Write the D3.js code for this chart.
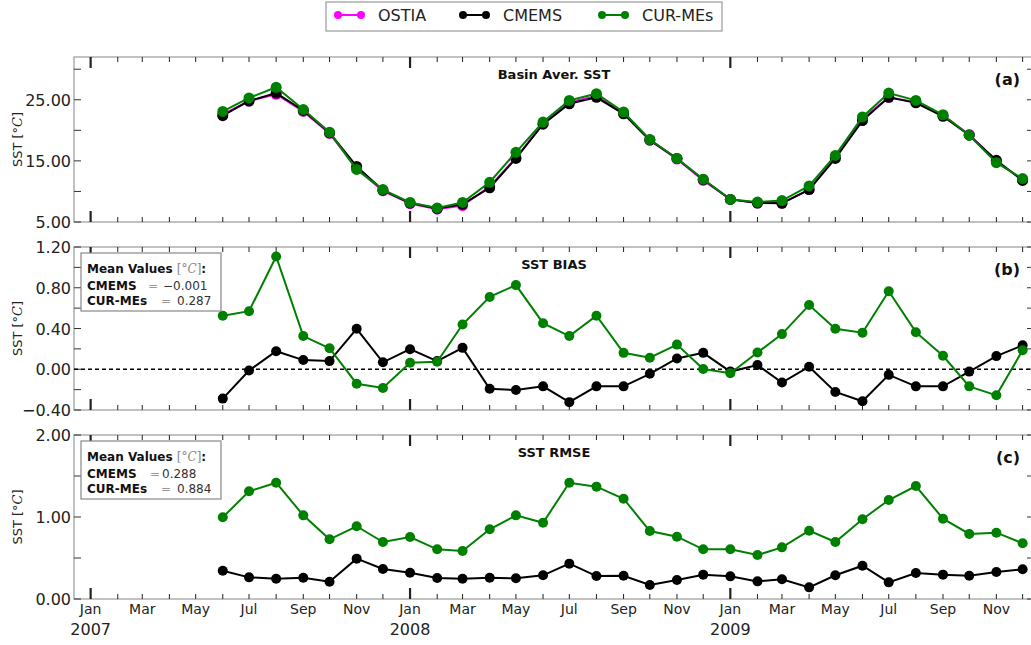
<!DOCTYPE html>
<html>
<head>
<meta charset="utf-8">
<script src="https://d3js.org/d3.v7.min.js"></script>
<style>
  body { margin: 0; background: #fff; }
  text { font-family: "DejaVu Sans", sans-serif; }
</style>
</head>
<body>
<div id="chart"></div>
<script>
// Monthly dates of the series
var months = ["2007-06", "2007-07", "2007-08", "2007-09", "2007-10", "2007-11", "2007-12",
  "2008-01", "2008-02", "2008-03", "2008-04", "2008-05", "2008-06", "2008-07", "2008-08",
  "2008-09", "2008-10", "2008-11", "2008-12", "2009-01", "2009-02", "2009-03", "2009-04",
  "2009-05", "2009-06", "2009-07", "2009-08", "2009-09", "2009-10", "2009-11", "2009-12"];

// Basin averaged SST
var sstOstia = [22.6, 24.8, 25.9, 23.1, 19.5, 13.7, 10.1, 8.0, 7.1, 7.7, 10.8, 15.5, 21.1, 24.6, 25.6,
  22.8, 18.4, 15.3, 11.8, 8.7, 8.1, 8.1, 10.3, 15.6, 21.9, 25.4, 24.6, 22.4, 19.3, 14.9, 11.9];
var sstCmems = [22.4, 24.8, 26.1, 23.25, 19.6, 14.1, 10.2, 8.1, 7.2, 7.9, 10.6, 15.4, 21.0, 24.35, 25.4,
  22.7, 18.4, 15.4, 11.95, 8.7, 8.1, 8.05, 10.3, 15.4, 21.6, 25.4, 24.5, 22.3, 19.2, 15.1, 11.8];
var sstCur = [23.1, 25.3, 27.05, 23.4, 19.7, 13.6, 10.3, 8.2, 7.3, 8.2, 11.5, 16.4, 21.35, 24.9, 26.0,
  23.0, 18.5, 15.4, 12.0, 8.7, 8.26, 8.5, 10.9, 15.9, 22.2, 26.1, 24.9, 22.55, 19.2, 14.7, 12.1];

// SST bias
var biasCmems = [-0.288, -0.013, 0.177, 0.09, 0.08, 0.397, 0.068, 0.197, 0.08, 0.21, -0.191, -0.204,
  -0.168, -0.323, -0.168, -0.168, -0.045, 0.106, 0.161, -0.023, 0.042, -0.13, 0.025, -0.223, -0.314,
  -0.055, -0.168, -0.168, -0.023, 0.129, 0.235];
var biasCur = [0.526, 0.57, 1.107, 0.326, 0.206, -0.142, -0.184, 0.064, 0.074, 0.439, 0.71, 0.826,
  0.452, 0.326, 0.526, 0.161, 0.113, 0.242, 0.003, -0.039, 0.164, 0.345, 0.63, 0.397, 0.358,
  0.765, 0.364, 0.132, -0.168, -0.256, 0.187];

// SST rmse
var rmseCmems = [0.345, 0.264, 0.248, 0.26, 0.211, 0.492, 0.366, 0.321, 0.256, 0.248, 0.26, 0.252,
  0.289, 0.431, 0.28, 0.284, 0.171, 0.232, 0.297, 0.276, 0.215, 0.24, 0.142, 0.289, 0.406,
  0.203, 0.317, 0.297, 0.284, 0.33, 0.363];
var rmseCur = [0.996, 1.313, 1.418, 1.02, 0.728, 0.887, 0.695, 0.756, 0.606, 0.585, 0.85, 1.02,
  0.93, 1.418, 1.37, 1.223, 0.829, 0.76, 0.606, 0.606, 0.536, 0.63, 0.833, 0.695, 0.972,
  1.207, 1.378, 0.979, 0.793, 0.809, 0.679];

// Legend and tick labels
var seriesNames = ["OSTIA", "CMEMS", "CUR-MEs"];
var seriesColors = ["#ff00ff", "#000000", "#008000"];
var yearLabels = ["2007", "2008", "2009"];
var monthLabels = ["Jan", "Feb", "Mar", "Apr", "May", "Jun", "Jul", "Aug", "Sep", "Oct", "Nov", "Dec"];

var svgWidth = 1031;
var svgHeight = 645;

var parseMonth = d3.timeParse("%Y-%m");
var dates = months.map(parseMonth);

var svg = d3.select("#chart")
  .append("svg")
  .attr("width", svgWidth)
  .attr("height", svgHeight);

// Shared time scale (right spine falls just outside the picture)
var x = d3.scaleTime()
  .domain([new Date(2006, 11, 13), new Date(2009, 11, 14)])
  .range([74, 1034]);

var allMonths = d3.timeMonth.range(new Date(2007, 0, 1), new Date(2010, 0, 1));

var panels = [
  { top: 57, bottom: 222, domain: [5, 32], major: [5, 15, 25], minor: [10, 20, 30],
    title: "Basin Aver. SST", tag: "(a)",
    series: [sstOstia, sstCmems, sstCur], r: 5.5 },
  { top: 247, bottom: 410, domain: [-0.4, 1.2], major: [-0.4, 0, 0.4, 0.8, 1.2], minor: [-0.2, 0.2, 0.6, 1.0],
    title: "SST BIAS", tag: "(b)",
    series: [null, biasCmems, biasCur], r: 5,
    means: ["\u22120.001", "0.287"], eqX: [148, 161], valX: [163, 177] },
  { top: 435, bottom: 599, domain: [0, 2], major: [0, 1, 2], minor: [0.5, 1.5],
    title: "SST RMSE", tag: "(c)",
    series: [null, rmseCmems, rmseCur], r: 5,
    means: ["0.288", "0.884"], eqX: [150, 161], valX: [162, 177] }
];

panels.forEach(function(p, pi) {
  var y = d3.scaleLinear().domain(p.domain).range([p.bottom, p.top]);
  var g = svg.append("g");
  var x0 = x.range()[0], x1 = x.range()[1];

  // Frame
  g.append("rect")
    .attr("x", x0).attr("y", p.top)
    .attr("width", x1 - x0).attr("height", p.bottom - p.top)
    .attr("fill", "none")
    .attr("stroke", "#999")
    .attr("stroke-width", 1.2);

  // Month ticks on top and bottom, inward
  allMonths.forEach(function(d) {
    var isJan = d.getMonth() === 0;
    var len = isJan ? 11 : 5;
    [[p.bottom, -1], [p.top, 1]].forEach(function(s) {
      g.append("line")
        .attr("x1", x(d)).attr("x2", x(d))
        .attr("y1", s[0]).attr("y2", s[0] + s[1] * len)
        .attr("stroke", "#222")
        .attr("stroke-width", isJan ? 2.2 : 1);
    });
  });

  // Y ticks, inward on both sides
  p.major.concat(p.minor).forEach(function(v) {
    [[x0, 1], [x1, -1]].forEach(function(s) {
      g.append("line")
        .attr("x1", s[0]).attr("x2", s[0] + s[1] * 7)
        .attr("y1", y(v)).attr("y2", y(v))
        .attr("stroke", "#333")
        .attr("stroke-width", 1);
    });
  });

  // Y tick labels
  g.selectAll(".ylab")
    .data(p.major)
    .enter()
    .append("text")
    .attr("x", 71)
    .attr("y", d => y(d) + 6)
    .attr("text-anchor", "end")
    .attr("font-size", 16)
    .attr("fill", "#222")
    .text(d => d3.format(".2f")(d));

  // Y axis label
  var yl = g.append("text")
    .attr("transform", `translate(22, ${(p.top + p.bottom) / 2}) rotate(-90)`)
    .attr("text-anchor", "middle")
    .attr("font-size", 13)
    .attr("fill", "#222");
  yl.append("tspan").text("SST [\u00b0");
  yl.append("tspan").attr("font-family", "DejaVu Serif").attr("font-style", "italic").text("C");
  yl.append("tspan").text("]");

  // Zero line for bias panel
  if (pi === 1) {
    g.append("line")
      .attr("x1", x0).attr("x2", x1)
      .attr("y1", y(0)).attr("y2", y(0))
      .attr("stroke", "#000")
      .attr("stroke-width", 1.4)
      .attr("stroke-dasharray", "4,3");
  }

  // Series lines and markers
  var line = d3.line()
    .x((d, i) => x(dates[i]))
    .y(d => y(d));

  p.series.forEach(function(vals, si) {
    if (!vals) return;
    g.append("path")
      .datum(vals)
      .attr("d", line)
      .attr("fill", "none")
      .attr("stroke", seriesColors[si])
      .attr("stroke-width", 2);
    g.selectAll(".pt" + si)
      .data(vals)
      .enter()
      .append("circle")
      .attr("cx", (d, i) => x(dates[i]))
      .attr("cy", d => y(d))
      .attr("r", p.r)
      .attr("fill", seriesColors[si]);
  });

  // Panel title and tag
  g.append("text")
    .attr("x", 554)
    .attr("y", p.top + 22)
    .attr("text-anchor", "middle")
    .attr("font-size", 13)
    .attr("font-weight", "bold")
    .attr("fill", "#111")
    .text(p.title);

  g.append("text")
    .attr("x", 1020)
    .attr("y", p.top + 28)
    .attr("text-anchor", "end")
    .attr("font-size", 16)
    .attr("font-weight", "bold")
    .attr("fill", "#111")
    .text(p.tag);

  // Mean values box
  if (p.means) {
    var bx = 81, by = p.top + 6;
    g.append("rect")
      .attr("x", bx).attr("y", by)
      .attr("width", 140).attr("height", 58)
      .attr("fill", "#fff")
      .attr("stroke", "#888")
      .attr("stroke-width", 1.2);

    var t0 = g.append("text")
      .attr("x", bx + 6).attr("y", by + 20)
      .attr("font-size", 12).attr("font-weight", "bold").attr("fill", "#111");
    t0.append("tspan").text("Mean Values ");
    t0.append("tspan").attr("font-family", "DejaVu Serif").attr("font-weight", "normal")
      .attr("fill", "#888").text("[\u00b0");
    t0.append("tspan").attr("font-family", "DejaVu Serif").attr("font-weight", "normal")
      .attr("font-style", "italic").attr("fill", "#888").text("C");
    t0.append("tspan").attr("font-family", "DejaVu Serif").attr("font-weight", "normal")
      .attr("fill", "#888").text("]");
    t0.append("tspan").text(":");

    ["CMEMS", "CUR-MEs"].forEach(function(name, k) {
      var ty = by + 37 + k * 15;
      g.append("text")
        .attr("x", bx + 6).attr("y", ty)
        .attr("font-size", 12).attr("font-weight", "bold").attr("fill", "#111")
        .text(name);
      g.append("text")
        .attr("x", p.eqX[k]).attr("y", ty)
        .attr("font-family", "DejaVu Serif").attr("font-size", 12).attr("fill", "#999")
        .text("=");
      g.append("text")
        .attr("x", p.valX[k]).attr("y", ty)
        .attr("font-family", "DejaVu Serif").attr("font-size", 12).attr("fill", "#333")
        .text(p.means[k]);
    });
  }

  // X tick labels under the last panel
  if (pi === panels.length - 1) {
    g.selectAll(".xlab")
      .data(allMonths.filter(d => d.getMonth() % 2 === 0))
      .enter()
      .append("text")
      .attr("x", d => x(d))
      .attr("y", p.bottom + 15)
      .attr("text-anchor", "middle")
      .attr("font-size", 14)
      .attr("fill", "#222")
      .text(d => monthLabels[d.getMonth()]);

    g.selectAll(".yearlab")
      .data(yearLabels)
      .enter()
      .append("text")
      .attr("x", d => x(new Date(+d, 0, 1)))
      .attr("y", p.bottom + 36)
      .attr("text-anchor", "middle")
      .attr("font-size", 16)
      .attr("fill", "#222")
      .text(d => d);
  }
});

// Legend
var legend = svg.append("g");
legend.append("rect")
  .attr("x", 326).attr("y", 2)
  .attr("width", 396).attr("height", 29)
  .attr("fill", "#fff")
  .attr("stroke", "#999")
  .attr("stroke-width", 1.2);

var legendX = [338, 463, 602];
seriesNames.forEach(function(name, i) {
  var lx = legendX[i];
  legend.append("line")
    .attr("x1", lx).attr("x2", lx + 23)
    .attr("y1", 15).attr("y2", 15)
    .attr("stroke", seriesColors[i])
    .attr("stroke-width", 2);
  [lx, lx + 23].forEach(function(cx) {
    legend.append("circle")
      .attr("cx", cx).attr("cy", 15).attr("r", 4)
      .attr("fill", seriesColors[i]);
  });
  legend.append("text")
    .attr("x", lx + 40)
    .attr("y", 21)
    .attr("font-size", 16)
    .attr("fill", "#222")
    .text(name);
});
</script>
</body>
</html>
